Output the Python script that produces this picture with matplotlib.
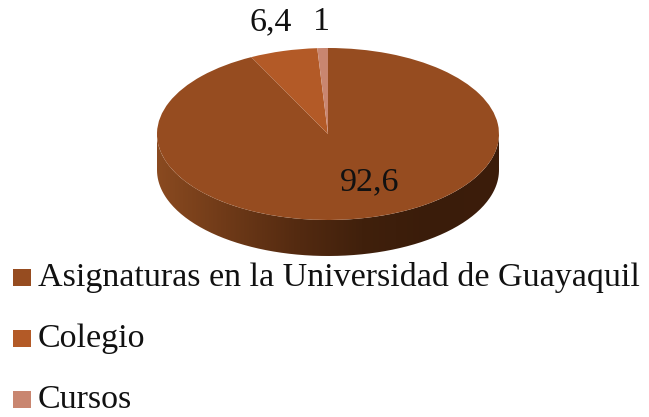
import numpy as np
import matplotlib
matplotlib.use("Agg")
import matplotlib.pyplot as plt
from matplotlib.colors import LinearSegmentedColormap
from matplotlib.legend_handler import HandlerPatch
from matplotlib.patches import PathPatch, Rectangle, Wedge
from matplotlib.path import Path

categories = ["Asignaturas en la Universidad de Guayaquil", "Colegio", "Cursos"]
values = [92.6, 6.4, 1]
value_labels = ["92,6", "6,4", "1"]
colors = ["#964c20", "#b35a27", "#c98670"]
side_stops = ["#8a4a20", "#6f3a18", "#552b11", "#40200c", "#3a1c0a", "#3c1d0b"]

W, H = 649, 417
cx, cy, rx, ry, depth = 328, 134, 171, 86, 36

plt.rcParams["font.family"] = ["Liberation Serif", "DejaVu Serif"]
fig = plt.figure(figsize=(W / 100, H / 100), dpi=100)
ax = fig.add_axes([0, 0, 1, 1])

wedges, _ = ax.pie(values, colors=colors, startangle=90, counterclock=False,
                   radius=1, wedgeprops={"linewidth": 0, "zorder": 3})
ax.set_aspect("auto")

# Extruded side of the disc, with a horizontal gradient
d = depth / ry
t = np.linspace(np.pi, 2 * np.pi, 200)
verts = np.vstack([np.c_[np.cos(t), np.sin(t) - d], np.c_[np.cos(t[::-1]), np.sin(t[::-1])]])
side = PathPatch(Path(verts), transform=ax.transData, fc="none", ec="none")
ax.add_patch(side)
cmap = LinearSegmentedColormap.from_list("side", side_stops)
im = ax.imshow(np.linspace(0, 1, 256)[None, :], cmap=cmap, extent=(-1, 1, -1 - d, 0),
               aspect="auto", zorder=2)
im.set_clip_path(side)
ax.set_xlim((0 - cx) / rx, (W - cx) / rx)
ax.set_ylim((cy - H) / ry, cy / ry)


def px(x, y):
    return (x - cx) / rx, (cy - y) / ry


for lab, (x, y) in zip(value_labels, [(370, 182), (270.5, 22), (321.5, 22)]):
    ax.text(*px(x, y), lab, ha="center", va="center", fontsize=24.5, color="#111111", zorder=5)


def square(legend, orig_handle, xdescent, ydescent, width, height, fontsize):
    return Rectangle((0, -0.3), 13, 12.5)


fig.legend(wedges, categories, loc="upper left", bbox_to_anchor=(0.02, 0.372),
           bbox_transform=fig.transFigure, frameon=False, fontsize=24.5,
           handlelength=0.53, handletextpad=0.2,
           labelspacing=0.885, borderpad=0, borderaxespad=0, labelcolor="#111111",
           handler_map={Wedge: HandlerPatch(patch_func=square)})

fig.savefig("out.png", dpi=100)
